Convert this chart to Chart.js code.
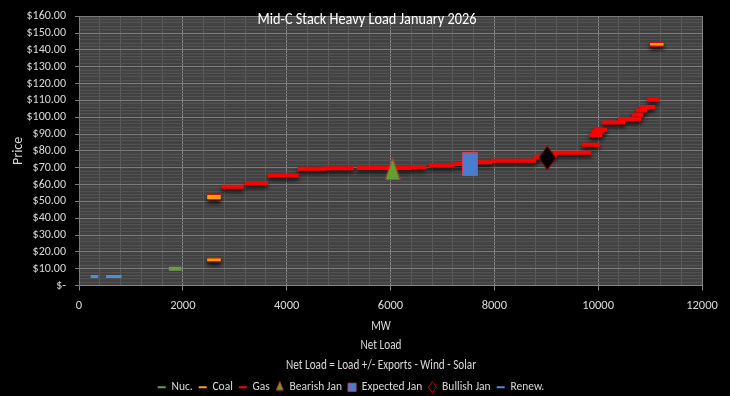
<!DOCTYPE html>
<html>
<head>
<meta charset="utf-8">
<script src="https://cdn.jsdelivr.net/npm/chart.js@4"></script>
<style>
  html, body { margin: 0; padding: 0; background: #000; }
  #wrap { width: 730px; height: 396px; }
</style>
</head>
<body>
<div id="wrap"><canvas id="stack" width="730" height="396"></canvas></div>
<script>
// segments: [startMW, endMW, price]
const nucSegments = [[1730, 1975, 10.0]];
const coalSegments = [[2470, 2730, 15.3], [2470, 2730, 52.2], [2470, 2730, 53.0], [11000, 11260, 143.3]];
const gasSegments = [
    [2750, 3170, 58.7], [3190, 3640, 60.7], [3640, 4230, 65.3], [4210, 4770, 69.3],
    [4730, 5290, 69.7], [5350, 6400, 69.8], [6390, 6690, 70.3], [6730, 7230, 71.5],
    [7230, 7670, 72.2], [7670, 7960, 73.2], [7940, 8810, 74.1], [8750, 8900, 76.0],
    [8900, 9200, 77.0], [9130, 9870, 78.8], [9690, 10040, 83.6], [9830, 10080, 89.4],
    [9870, 10120, 91.3], [9920, 10170, 92.6], [10080, 10520, 96.9], [10380, 10830, 98.8],
    [10650, 10870, 101.5], [10730, 10940, 104.0], [10810, 11100, 106.1], [10940, 11170, 110.3]
];
const renewSegments = [[225, 370, 5.3], [520, 820, 5.3]];

// scenario markers: [MW, price]
const bearishJan = [6040, 69.3];
const expectedJan = [7530, 71.9];
const bullishJan = [9020, 75.8];

const chartTitle = 'Mid-C Stack Heavy Load January 2026';
const xTitleLines = ['MW', 'Net Load', 'Net Load = Load +/- Exports - Wind - Solar'];
const yTitle = 'Price';

const FONT = 'Carlito, "Liberation Sans", sans-serif';
const TEXT = '#d9d9d9';

// turn [x1, x2, y] list into line points with gaps between segments
function toPoints(segs) {
    const pts = [];
    segs.forEach(([x1, x2, p]) => {
        pts.push({ x: x1, y: p }, { x: x2, y: p }, { x: x2, y: null });
    });
    return pts;
}

// marker images (Excel stretched markers)
function makeMarker(w, h, drawShape, fill, stroke) {
    const c = document.createElement('canvas');
    c.width = w; c.height = h;
    const g = c.getContext('2d');
    g.beginPath();
    drawShape(g, w, h);
    g.closePath();
    g.fillStyle = fill;
    g.fill();
    g.lineWidth = 1;
    g.strokeStyle = stroke;
    g.stroke();
    return c;
}
const triImg = makeMarker(16, 23, (g, w, h) => { g.moveTo(w / 2, 0.5); g.lineTo(w - 0.5, h - 0.5); g.lineTo(0.5, h - 0.5); }, '#62a034', '#c0302a');
const rectImg = makeMarker(16, 24, (g, w, h) => { g.rect(0.5, 0.5, w - 1, h - 1); }, '#4a7cd0', '#d0405a');
const diaImg = makeMarker(18, 25, (g, w, h) => { g.moveTo(w / 2, 0.5); g.lineTo(w - 0.5, h / 2); g.lineTo(w / 2, h - 0.5); g.lineTo(0.5, h / 2); }, '#000000', '#b00000');

// squeezed text like the original export
function narrowText(ctx, text, x, y, sx) {
    ctx.save();
    ctx.translate(x, y);
    ctx.scale(sx, 1);
    ctx.fillText(text, 0, 0);
    ctx.restore();
}

// background + free text
const decor = {
    id: 'decor',
    beforeDraw(chart) {
        const { ctx, chartArea: a } = chart;
        ctx.save();
        ctx.fillStyle = '#000';
        ctx.fillRect(0, 0, chart.width, chart.height);
        ctx.fillStyle = '#454545';
        ctx.fillRect(a.left, a.top, a.right - a.left, a.bottom - a.top);
        ctx.fillStyle = 'rgba(0,0,0,0.08)';
        for (let y = a.top; y < a.bottom; y += 3) ctx.fillRect(a.left, y, a.right - a.left, 1);
        ctx.restore();
    },
    beforeDatasetDraw(chart, args) {
        const ds = chart.data.datasets[args.index];
        if (ds.shadow) {
            chart.ctx.save();
            chart.ctx.shadowColor = 'rgba(0,0,0,0.85)';
            chart.ctx.shadowBlur = 4;
            chart.ctx.shadowOffsetY = 3;
        }
    },
    afterDatasetDraw(chart, args) {
        if (chart.data.datasets[args.index].shadow) chart.ctx.restore();
    },
    afterDraw(chart) {
        const { ctx } = chart;
        ctx.save();
        ctx.fillStyle = '#ffffff';
        ctx.textAlign = 'center';
        ctx.textBaseline = 'middle';
        ctx.font = '17px ' + FONT;
        narrowText(ctx, chartTitle, 367, 20, 0.84);
        ctx.fillStyle = TEXT;
        ctx.font = '14px ' + FONT;
        xTitleLines.forEach((t, i) => narrowText(ctx, t, 381, 326 + i * 19.5, 0.8));
        ctx.restore();
    }
};

const gasRed = '#ff0000';

new Chart(document.getElementById('stack'), {
    type: 'scatter',
    data: {
        datasets: [
            { label: 'Nuc.', data: toPoints(nucSegments), showLine: true, borderColor: '#6f9a44', borderWidth: 4, pointRadius: 0, order: 4 },
            { label: 'Coal', data: toPoints(coalSegments), showLine: true, borderColor: '#ffa000', borderWidth: 2.5, pointRadius: 0, order: 3 },
            { label: 'Gas', data: toPoints(gasSegments), showLine: true, borderColor: gasRed, borderWidth: 4, pointRadius: 0, order: 2, shadow: true },
            { label: 'Bearish Jan', data: [{ x: bearishJan[0], y: bearishJan[1] }], pointStyle: triImg, pointRadius: 8, order: 0 },
            { label: 'Expected Jan', data: [{ x: expectedJan[0], y: expectedJan[1] }], pointStyle: rectImg, pointRadius: 8, order: 0 },
            { label: 'Bullish Jan', data: [{ x: bullishJan[0], y: bullishJan[1] }], pointStyle: diaImg, pointRadius: 8, order: 0 },
            { label: 'Renew.', data: toPoints(renewSegments), showLine: true, borderColor: '#4a90d9', borderWidth: 3, pointRadius: 0, order: 4 },
            { label: 'coal-edge', data: toPoints(coalSegments), showLine: true, borderColor: '#d01010', borderWidth: 5, pointRadius: 0, order: 5, shadow: true, noLegend: true }
        ]
    },
    options: {
        responsive: false,
        animation: false,
        events: [],
        layout: { padding: { top: 7, right: 28, left: 0, bottom: -7 } },
        scales: {
            x: {
                type: 'linear', min: 0, max: 12000,
                afterFit: s => { s.height = 90; },
                ticks: {
                    stepSize: 400, autoSkip: false, maxRotation: 0, minRotation: 0,
                    color: TEXT, font: { family: FONT, size: 12.5 }, padding: 8,
                    callback: v => (v % 2000 === 0 ? String(v) : '')
                },
                grid: {
                    color: c => (c.tick && c.tick.value % 2000 === 0 ? '#858585' : '#5c5c5c'),
                    tickColor: c => (c.tick && c.tick.value % 2000 === 0 ? '#858585' : 'transparent'),
                    tickLength: 5
                },
                border: { color: '#858585' }
            },
            y: {
                min: 0, max: 160,
                afterFit: s => { s.width = 79; },
                ticks: {
                    stepSize: 2, autoSkip: false, color: TEXT, font: { family: FONT, size: 12 }, padding: 9,
                    callback: v => (v % 10 === 0 ? (v === 0 ? '$-' : '$' + v.toFixed(2)) : '')
                },
                grid: {
                    color: c => (c.tick && c.tick.value % 10 === 0 ? '#7a7a7a' : '#525252'),
                    tickColor: c => (c.tick && c.tick.value % 10 === 0 ? '#7a7a7a' : 'transparent'),
                    tickLength: 4
                },
                border: { color: '#7a7a7a' },
                title: { display: true, text: yTitle, color: TEXT, font: { family: FONT, size: 14 }, padding: { top: 10, bottom: 0 } }
            }
        },
        plugins: {
            tooltip: { enabled: false },
            legend: {
                position: 'bottom',
                labels: {
                    color: TEXT,
                    font: { family: FONT, size: 11.5 },
                    usePointStyle: true,
                    boxWidth: 8, boxHeight: 8, pointStyleWidth: 8,
                    padding: 6,
                    sort: (a, b) => a.datasetIndex - b.datasetIndex,
                    filter: (item, data) => !data.datasets[item.datasetIndex].noLegend,
                    generateLabels: chart => {
                        const items = Chart.defaults.plugins.legend.labels.generateLabels(chart);
                        return items.map(it => {
                            const ds = chart.data.datasets[it.datasetIndex];
                            if (ds.label === 'Bearish Jan') {
                                Object.assign(it, { pointStyle: 'triangle', fillStyle: '#62a034', strokeStyle: '#c0302a', lineWidth: 1 });
                            } else if (ds.label === 'Expected Jan') {
                                Object.assign(it, { pointStyle: 'rect', fillStyle: '#4a7cd0', strokeStyle: '#d0405a', lineWidth: 1 });
                            } else if (ds.label === 'Bullish Jan') {
                                Object.assign(it, { pointStyle: 'rectRot', fillStyle: 'rgba(0,0,0,0)', strokeStyle: '#c00000', lineWidth: 1 });
                            } else {
                                Object.assign(it, { pointStyle: 'line', strokeStyle: ds.borderColor, lineWidth: 2 });
                            }
                            return it;
                        });
                    }
                }
            }
        }
    },
    plugins: [decor]
});
</script>
</body>
</html>
